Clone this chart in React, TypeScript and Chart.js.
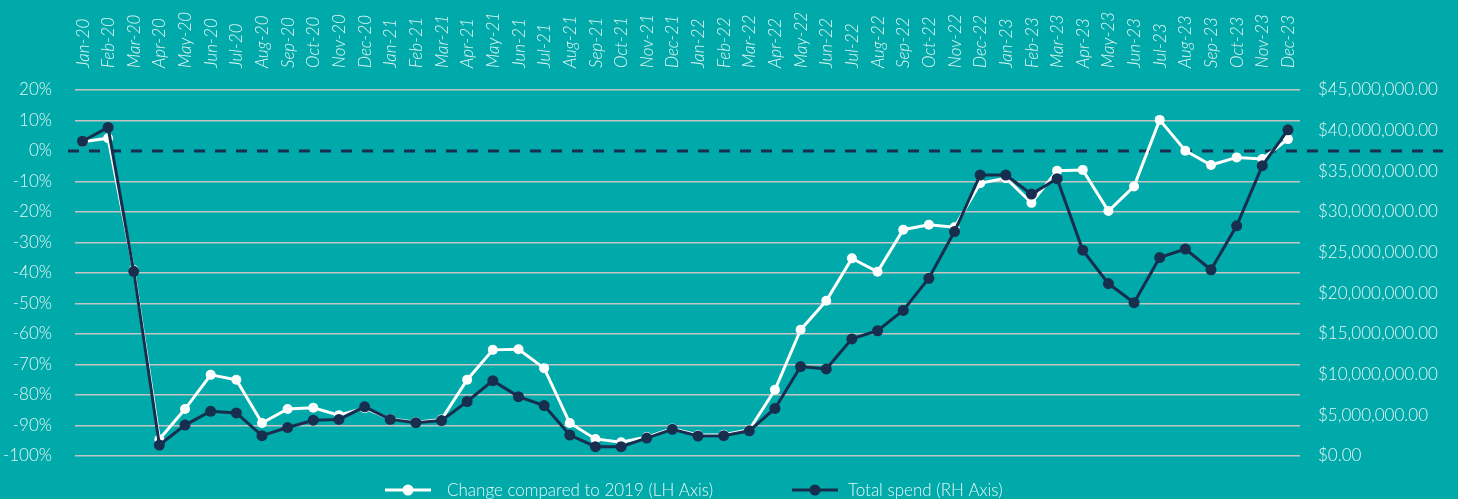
import React, { useEffect, useRef } from 'react';
import { Chart, registerables } from 'chart.js';

Chart.register(...registerables);

const months = [
  'Jan-20', 'Feb-20', 'Mar-20', 'Apr-20', 'May-20', 'Jun-20', 'Jul-20', 'Aug-20', 'Sep-20', 'Oct-20', 'Nov-20', 'Dec-20',
  'Jan-21', 'Feb-21', 'Mar-21', 'Apr-21', 'May-21', 'Jun-21', 'Jul-21', 'Aug-21', 'Sep-21', 'Oct-21', 'Nov-21', 'Dec-21',
  'Jan-22', 'Feb-22', 'Mar-22', 'Apr-22', 'May-22', 'Jun-22', 'Jul-22', 'Aug-22', 'Sep-22', 'Oct-22', 'Nov-22', 'Dec-22',
  'Jan-23', 'Feb-23', 'Mar-23', 'Apr-23', 'May-23', 'Jun-23', 'Jul-23', 'Aug-23', 'Sep-23', 'Oct-23', 'Nov-23', 'Dec-23',
];

// Change compared to 2019, in percent (left axis)
const changeVs2019 = [
  3.0, 4.2, -39.0, -94.5, -84.6, -73.4, -75.0, -89.2, -84.6, -84.2, -86.6, -84.3,
  -87.9, -88.9, -88.0, -75.0, -65.2, -65.0, -71.2, -89.2, -94.4, -95.5, -93.8, -91.0,
  -93.1, -93.0, -91.4, -78.3, -58.6, -49.1, -35.2, -39.6, -25.8, -24.2, -25.0, -10.6,
  -8.9, -17.0, -6.5, -6.2, -19.7, -11.6, 10.2, 0.1, -4.6, -2.1, -2.6, 3.9,
];

// Total spend in dollars (right axis)
const totalSpend = [
  38700000, 40400000, 22700000, 1350000, 3800000, 5500000, 5300000, 2500000, 3500000, 4400000, 4500000, 6050000,
  4500000, 4100000, 4350000, 6700000, 9260000, 7300000, 6200000, 2580000, 1150000, 1150000, 2200000, 3280000,
  2460000, 2500000, 3100000, 5850000, 11000000, 10700000, 14400000, 15400000, 17900000, 21850000, 27600000, 34550000,
  34550000, 32200000, 34100000, 25300000, 21200000, 18850000, 24400000, 25450000, 22900000, 28300000, 35700000, 40100000,
];

const seriesLabels = ['Change compared to 2019 (LH Axis)', 'Total spend (RH Axis)'];

const leftMin = -100;
const leftMax = 20;
const leftStep = 10;
const rightMin = 0;
const rightMax = 45000000;
const rightStep = 5000000;

const TEAL = '#00aaaa';
const NAVY = '#172e4e';
const WHITE = '#ffffff';
const GRID = '#c3c3c3';
const TEXT = '#e6f6f6';
const FONT = 'Lato, "Open Sans", sans-serif';

const zeroLinePlugin = {
  id: 'zeroLine',
  beforeDatasetsDraw(chart: any) {
    const y = chart.scales.yL.getPixelForValue(0);
    const ctx = chart.ctx;
    ctx.save();
    ctx.strokeStyle = NAVY;
    ctx.lineWidth = 3;
    ctx.setLineDash([11, 10]);
    ctx.beginPath();
    ctx.moveTo(chart.chartArea.left - 7, y);
    ctx.lineTo(chart.chartArea.right + 143, y);
    ctx.stroke();
    ctx.restore();
  },
};

const legendPlugin = {
  id: 'customLegend',
  afterDraw(chart: any) {
    const ctx = chart.ctx;
    const y = 490;
    const items = [
      { x: 385, color: WHITE, text: seriesLabels[0], textX: 447 },
      { x: 792, color: NAVY, text: seriesLabels[1], textX: 848 },
    ];
    ctx.save();
    items.forEach((it) => {
      ctx.strokeStyle = it.color;
      ctx.fillStyle = it.color;
      ctx.lineWidth = 3;
      ctx.beginPath();
      ctx.moveTo(it.x, y);
      ctx.lineTo(it.x + 46, y);
      ctx.stroke();
      ctx.beginPath();
      ctx.arc(it.x + 23, y, 5.5, 0, Math.PI * 2);
      ctx.fill();
      ctx.fillStyle = TEXT;
      ctx.font = `300 17px ${FONT}`;
      ctx.textBaseline = 'middle';
      ctx.textAlign = 'left';
      ctx.fillText(it.text, it.textX, y + 1);
    });
    ctx.restore();
  },
};

export default function App() {
  const canvasRef = useRef<HTMLCanvasElement | null>(null);

  useEffect(() => {
    document.body.style.margin = '0';
    document.body.style.background = TEAL;
    const canvas = canvasRef.current;
    if (!canvas) return;
    const chart = new Chart(canvas, {
      type: 'line',
      data: {
        datasets: [
          {
            label: seriesLabels[0],
            data: changeVs2019.map((v, i) => ({ x: i, y: v })),
            yAxisID: 'yL',
            borderColor: WHITE,
            backgroundColor: WHITE,
            borderWidth: 3,
            pointRadius: 5,
            pointBorderWidth: 0,
            pointBackgroundColor: WHITE,
            tension: 0,
            order: 2,
          },
          {
            label: seriesLabels[1],
            data: totalSpend.map((v, i) => ({ x: i, y: v })),
            yAxisID: 'yR',
            borderColor: NAVY,
            backgroundColor: NAVY,
            borderWidth: 3,
            pointRadius: 5.5,
            pointBorderWidth: 0,
            pointBackgroundColor: NAVY,
            tension: 0,
            order: 1,
          },
        ],
      },
      options: {
        responsive: false,
        animation: false,
        layout: { padding: { top: 0, bottom: 43, left: 0, right: 0 } },
        plugins: {
          legend: { display: false },
          tooltip: { enabled: false },
        },
        scales: {
          x: {
            type: 'linear',
            position: 'top',
            min: -0.29,
            max: 47.47,
            grid: { display: false, drawTicks: false },
            border: { display: false },
            afterBuildTicks: (scale: any) => {
              scale.ticks = months.map((_, i) => ({ value: i }));
            },
            afterFit: (scale: any) => {
              scale.height = 90;
            },
            ticks: {
              autoSkip: false,
              minRotation: 90,
              maxRotation: 90,
              padding: 22,
              labelOffset: 21,
              color: TEXT,
              font: { family: FONT, size: 17, style: 'italic', weight: '300' as any },
              callback: (v: any) => months[v] ?? '',
            },
          },
          yL: {
            type: 'linear',
            position: 'left',
            min: leftMin,
            max: leftMax,
            grid: {
              drawTicks: false,
              lineWidth: 1.5,
              color: (c: any) => (c.tick && c.tick.value === 0 ? 'rgba(0,0,0,0)' : GRID),
            },
            border: { display: false },
            afterFit: (scale: any) => {
              scale.width = 75;
            },
            ticks: {
              stepSize: leftStep,
              padding: 23,
              color: TEXT,
              font: { family: FONT, size: 17, weight: '300' as any },
              callback: (v: any) => `${v}%`,
            },
          },
          yR: {
            type: 'linear',
            position: 'right',
            min: rightMin,
            max: rightMax,
            grid: { display: false, drawTicks: false },
            border: { display: false },
            afterFit: (scale: any) => {
              scale.width = 158;
            },
            ticks: {
              stepSize: rightStep,
              padding: 18,
              color: TEXT,
              font: { family: FONT, size: 17, weight: '300' as any },
              callback: (v: any) =>
                '$' + Number(v).toLocaleString('en-US', { minimumFractionDigits: 2, maximumFractionDigits: 2 }),
            },
          },
        },
      },
      plugins: [zeroLinePlugin, legendPlugin],
    } as any);
    return () => chart.destroy();
  }, []);

  return (
    <div style={{ width: 1458, height: 499, background: TEAL, overflow: 'hidden' }}>
      <canvas ref={canvasRef} width={1458} height={499} style={{ display: 'block' }} />
    </div>
  );
}
